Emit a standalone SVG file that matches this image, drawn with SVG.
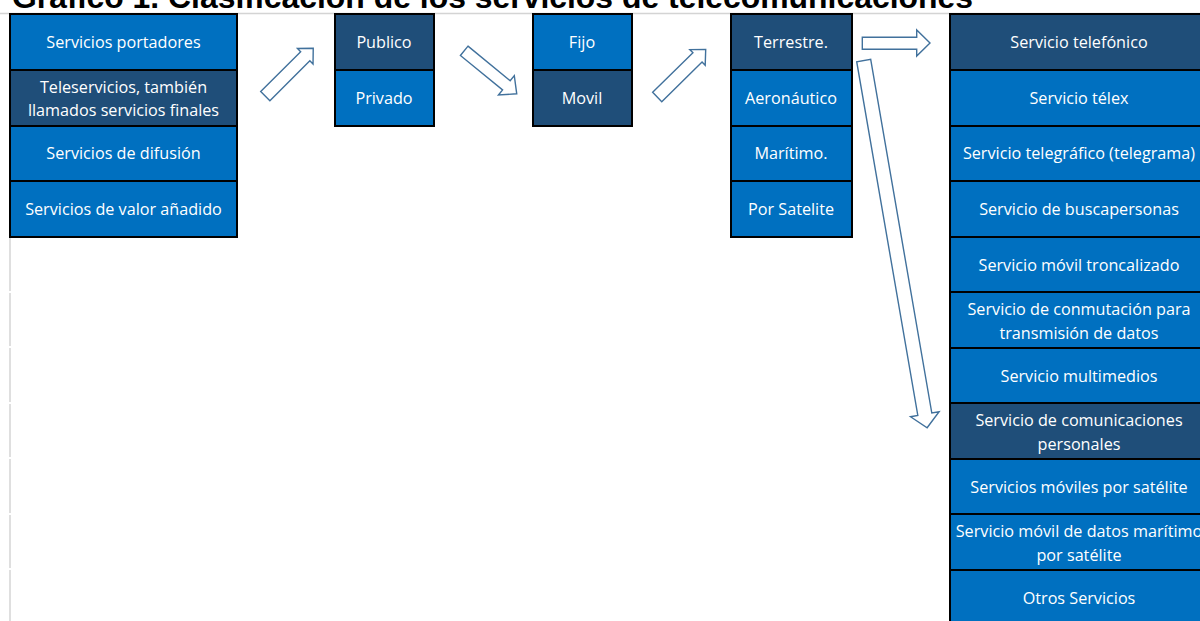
<svg xmlns="http://www.w3.org/2000/svg" width="1200" height="621" viewBox="0 0 1200 621">
<style>
.b{fill:#0070C0;stroke:#000;stroke-width:2}
.d{fill:#1F4E79;stroke:#000;stroke-width:2}
.t{font-family:"Open Sans","Liberation Sans",sans-serif;font-size:16.2px;fill:#fff;text-anchor:middle}
.ar{fill:#fff;stroke:#41719C;stroke-width:1.4;stroke-linejoin:miter}
.grid{stroke:#D4D4D4;stroke-width:1.5}
</style>
<rect width="1200" height="621" fill="#fff"/>
<g id="gridlines">
<line class="grid" x1="0" y1="13.5" x2="1200" y2="13.5"/>
<line class="grid" x1="10" y1="237" x2="10" y2="291"/>
<line class="grid" x1="10" y1="293" x2="10" y2="346"/>
<line class="grid" x1="10" y1="348" x2="10" y2="402"/>
<line class="grid" x1="10" y1="404" x2="10" y2="457"/>
<line class="grid" x1="10" y1="459" x2="10" y2="513"/>
<line class="grid" x1="10" y1="515" x2="10" y2="568"/>
<line class="grid" x1="10" y1="570" x2="10" y2="621"/>
</g>
<text id="title" x="12" y="7.5" font-family="'Liberation Sans',Arial,sans-serif" font-weight="bold" font-size="32" textLength="961" lengthAdjust="spacingAndGlyphs" fill="#000">Gráfico 1. Clasificación de los servicios de telecomunicaciones</text>

<g id="col1">
<g id="servicios-portadores"><rect class="b" x="10" y="14" width="227" height="56"/><text class="t" x="123.5" y="47.5">Servicios portadores</text></g>
<g id="teleservicios"><rect class="d" x="10" y="70" width="227" height="56"/><text class="t" x="123.5" y="92.5">Teleservicios, también</text><text class="t" x="123.5" y="115.5">llamados servicios finales</text></g>
<g id="servicios-difusion"><rect class="b" x="10" y="126" width="227" height="55"/><text class="t" x="123.5" y="158.5">Servicios de difusión</text></g>
<g id="servicios-valor"><rect class="b" x="10" y="181" width="227" height="56"/><text class="t" x="123.5" y="214.5">Servicios de valor añadido</text></g>
</g>

<g id="col2">
<g id="publico"><rect class="d" x="335" y="14" width="99" height="56"/><text class="t" x="384" y="47.5">Publico</text></g>
<g id="privado"><rect class="b" x="335" y="70" width="99" height="56"/><text class="t" x="384" y="103.5">Privado</text></g>
</g>

<g id="col3">
<g id="fijo"><rect class="b" x="533" y="14" width="99" height="56"/><text class="t" x="582" y="47.5">Fijo</text></g>
<g id="movil"><rect class="d" x="533" y="70" width="99" height="56"/><text class="t" x="582" y="103.5">Movil</text></g>
</g>

<g id="col4">
<g id="terrestre"><rect class="d" x="731" y="14" width="121" height="56"/><text class="t" x="791" y="47.5">Terrestre.</text></g>
<g id="aeronautico"><rect class="b" x="731" y="70" width="121" height="56"/><text class="t" x="791" y="103.5">Aeronáutico</text></g>
<g id="maritimo"><rect class="b" x="731" y="126" width="121" height="55"/><text class="t" x="791" y="158.5">Marítimo.</text></g>
<g id="por-satelite"><rect class="b" x="731" y="181" width="121" height="56"/><text class="t" x="791" y="214.5">Por Satelite</text></g>
</g>

<g id="col5">
<g id="s-telefonico"><rect class="d" x="950" y="14" width="262" height="56"/><text class="t" x="1079" y="47.5">Servicio telefónico</text></g>
<g id="s-telex"><rect class="b" x="950" y="70" width="262" height="56"/><text class="t" x="1079" y="103.5">Servicio télex</text></g>
<g id="s-telegrafico"><rect class="b" x="950" y="126" width="262" height="55"/><text class="t" x="1079" y="158.5">Servicio telegráfico (telegrama)</text></g>
<g id="s-buscapersonas"><rect class="b" x="950" y="181" width="262" height="56"/><text class="t" x="1079" y="214.5">Servicio de buscapersonas</text></g>
<g id="s-troncalizado"><rect class="b" x="950" y="237" width="262" height="55"/><text class="t" x="1079" y="270.5">Servicio móvil troncalizado</text></g>
<g id="s-conmutacion"><rect class="b" x="950" y="292" width="262" height="56"/><text class="t" x="1079" y="314.5">Servicio de conmutación para</text><text class="t" x="1079" y="338.5">transmisión de datos</text></g>
<g id="s-multimedios"><rect class="b" x="950" y="348" width="262" height="55"/><text class="t" x="1079" y="381.5">Servicio multimedios</text></g>
<g id="s-personales"><rect class="d" x="950" y="403" width="262" height="56"/><text class="t" x="1079" y="425.5">Servicio de comunicaciones</text><text class="t" x="1079" y="449.5">personales</text></g>
<g id="s-moviles-satelite"><rect class="b" x="950" y="459" width="262" height="55"/><text class="t" x="1079" y="492.5">Servicios móviles por satélite</text></g>
<g id="s-datos-maritimo"><rect class="b" x="950" y="514" width="262" height="56"/><text class="t" x="1079" y="536.5">Servicio móvil de datos marítimo</text><text class="t" x="1079" y="560.5">por satélite</text></g>
<g id="s-otros"><rect class="b" x="950" y="570" width="262" height="56"/><text class="t" x="1079" y="603.5">Otros Servicios</text></g>
</g>

<g id="connectors">
<path class="ar" transform="translate(265.3,96.2) rotate(-45)" d="M0,-6.5 L56.5,-6.5 L56.5,-11 L67.8,0 L56.5,11 L56.5,6.5 L0,6.5 Z"/>
<path class="ar" transform="translate(464.2,50.8) rotate(39.3)" d="M0,-6 L54.5,-6 L54.5,-12.5 L67.9,0 L54.5,12.5 L54.5,6 L0,6 Z"/>
<path class="ar" transform="translate(657.2,97) rotate(-44.5)" d="M0,-6.5 L56.5,-6.5 L56.5,-11 L68,0 L56.5,11 L56.5,6.5 L0,6.5 Z"/>
<path class="ar" d="M862.3,37.3 L916.7,37.3 L916.7,30 L930,43 L916.7,56 L916.7,49.3 L862.3,49.3 Z"/>
<path class="ar" transform="translate(863.7,60.5) rotate(80.2)" d="M0,-7.1 L359,-7.1 L359,-14.5 L372.7,0 L359,14.5 L359,7.1 L0,7.1 Z"/>
</g>
</svg>
